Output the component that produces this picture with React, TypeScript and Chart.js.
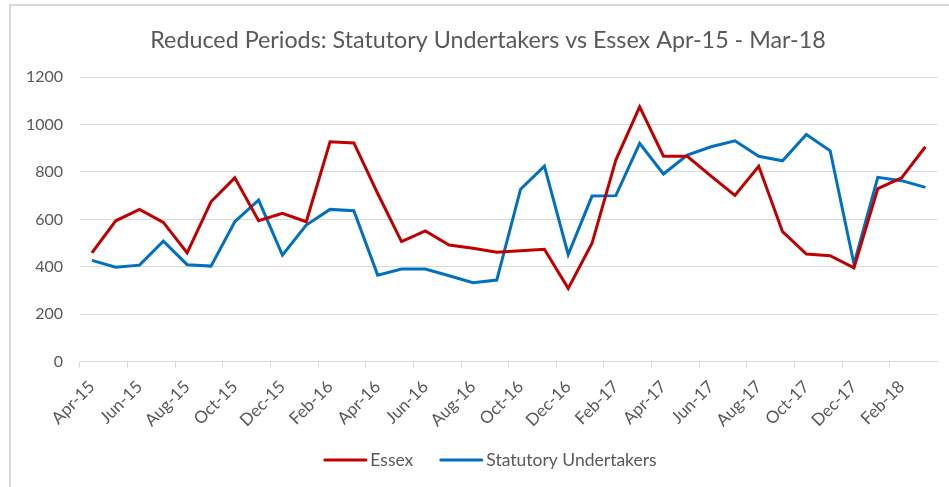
import React, { useEffect, useRef } from 'react';
import { Chart, registerables } from 'chart.js';

Chart.register(...registerables);

const chartTitle = 'Reduced Periods: Statutory Undertakers vs Essex Apr-15 - Mar-18';

const months = [
  'Apr-15', 'May-15', 'Jun-15', 'Jul-15', 'Aug-15', 'Sep-15', 'Oct-15', 'Nov-15', 'Dec-15', 'Jan-16', 'Feb-16', 'Mar-16',
  'Apr-16', 'May-16', 'Jun-16', 'Jul-16', 'Aug-16', 'Sep-16', 'Oct-16', 'Nov-16', 'Dec-16', 'Jan-17', 'Feb-17', 'Mar-17',
  'Apr-17', 'May-17', 'Jun-17', 'Jul-17', 'Aug-17', 'Sep-17', 'Oct-17', 'Nov-17', 'Dec-17', 'Jan-18', 'Feb-18', 'Mar-18',
];

const essex = [
  459, 594, 642, 587, 459, 674, 775, 594, 625, 590, 927, 922,
  709, 506, 551, 492, 478, 461, 468, 474, 309, 499, 850, 1074,
  866, 866, 782, 701, 824, 548, 454, 447, 396, 730, 775, 906,
];

const statutoryUndertakers = [
  427, 398, 407, 508, 409, 403, 590, 681, 449, 576, 642, 636,
  365, 391, 391, 362, 333, 344, 727, 824, 452, 698, 700, 920,
  791, 871, 906, 931, 866, 847, 958, 889, 412, 777, 763, 735,
];

const yMin = 0;
const yMax = 1200;
const yStep = 200;

const TEXT = '#595959';
const GRID = '#d9d9d9';
const FONT = 'Lato, "Open Sans", sans-serif';

// Draws the title and the legend (centred on the Excel chart frame, not the canvas).
const titleLegendPlugin = {
  id: 'titleLegend',
  afterDraw(chart: any) {
    const ctx = chart.ctx;
    ctx.save();
    // title
    ctx.fillStyle = TEXT;
    ctx.font = `23.3px ${FONT}`;
    ctx.textAlign = 'center';
    ctx.textBaseline = 'middle';
    ctx.fillText(chartTitle, 488, 40);

    // legend
    ctx.font = `17.5px ${FONT}`;
    ctx.textAlign = 'left';
    const markerW = 44;
    const textGap = 3;
    const itemGap = 26;
    const items = chart.data.datasets.map((ds: any) => ({
      label: ds.label,
      color: ds.borderColor,
      w: markerW + textGap + ctx.measureText(ds.label).width,
    }));
    const total = items.reduce((s: number, it: any) => s + it.w, 0) + itemGap * (items.length - 1);
    let x = 490 - total / 2;
    const y = 460;
    items.forEach((it: any) => {
      ctx.strokeStyle = it.color;
      ctx.lineWidth = 3;
      ctx.lineCap = 'round';
      ctx.beginPath();
      ctx.moveTo(x + 1.5, y);
      ctx.lineTo(x + markerW - 1.5, y);
      ctx.stroke();
      ctx.fillStyle = TEXT;
      ctx.fillText(it.label, x + markerW + textGap, y);
      x += it.w + itemGap;
    });
    ctx.restore();
  },
};

export default function App() {
  const canvasRef = useRef<HTMLCanvasElement | null>(null);

  useEffect(() => {
    const canvas = canvasRef.current;
    if (!canvas) return;
    const chart = new Chart(canvas, {
      type: 'line',
      data: {
        labels: months,
        datasets: [
          {
            label: 'Essex',
            data: essex,
            borderColor: '#c00000',
            backgroundColor: '#c00000',
            borderWidth: 3,
            pointRadius: 0,
            tension: 0,
          },
          {
            label: 'Statutory Undertakers',
            data: statutoryUndertakers,
            borderColor: '#0070c0',
            backgroundColor: '#0070c0',
            borderWidth: 3,
            pointRadius: 0,
            tension: 0,
          },
        ],
      },
      plugins: [titleLegendPlugin],
      options: {
        animation: false,
        responsive: true,
        maintainAspectRatio: false,
        layout: { padding: { left: 0, right: 10.4, top: 77, bottom: 55.3 } },
        plugins: {
          title: { display: false },
          legend: { display: false },
          tooltip: { enabled: false },
        },
        scales: {
          x: {
            type: 'category',
            offset: true,
            afterFit: (scale: any) => { scale.height = 70; },
            grid: {
              offset: true,
              drawOnChartArea: false,
              tickLength: 6,
              tickColor: (ctx: any) => (ctx.index % 2 === 0 ? GRID : 'rgba(0,0,0,0)'),
            },
            border: { color: GRID, width: 1 },
            ticks: {
              autoSkip: false,
              maxRotation: 45,
              minRotation: 45,
              padding: 9,
              color: TEXT,
              font: { family: FONT, size: 17 },
              callback: (_v: any, i: number) => (i % 2 === 0 ? months[i] : ''),
            },
          },
          y: {
            min: yMin,
            max: yMax,
            afterFit: (scale: any) => { scale.width = 80; },
            grid: { color: GRID, drawTicks: false },
            border: { display: false },
            ticks: {
              stepSize: yStep,
              padding: 17,
              color: TEXT,
              font: { family: FONT, size: 16 },
              callback: (v: any) => String(v),
            },
          },
        },
      },
    });
    return () => chart.destroy();
  }, []);

  return (
    <div style={{ position: 'fixed', left: 0, top: 0, width: 949, height: 487, background: '#fff', overflow: 'hidden' }}>
      <div
        style={{
          position: 'absolute', left: 9, top: 4, width: 1000, height: 1000,
          borderLeft: '2px solid #d9d9d9', borderTop: '2px solid #d9d9d9', boxSizing: 'border-box',
        }}
      />
      <canvas ref={canvasRef} style={{ position: 'absolute', left: 0, top: 0 }} />
    </div>
  );
}
